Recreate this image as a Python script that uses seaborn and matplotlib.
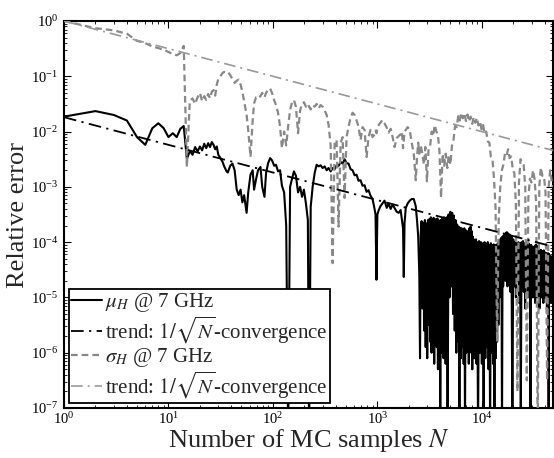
import numpy as np
import pandas as pd
import matplotlib
matplotlib.use("Agg")
import matplotlib.pyplot as plt
import seaborn as sns
from matplotlib.ticker import LogLocator, NullFormatter, FixedLocator

# ---------------- data ----------------
# Number of MC samples, shared part (N = 1 ... 2600)
N_early = (
    list(range(1, 31))
    + [31, 33, 34, 36, 37, 39, 41, 43, 45, 47,
       49, 51, 53, 56, 58, 61, 64, 66, 69, 72,
       76, 79, 83, 86, 90, 94, 98, 103, 107, 112,
       117, 122, 128, 134, 140, 146, 152, 159, 166, 174,
       182, 190, 198, 207, 216, 222, 230, 240, 251, 262,
       274, 286, 299, 313, 327, 341, 357, 373, 390, 407,
       425, 445, 465, 485, 507, 530, 554, 579, 605, 632,
       660, 690, 721, 754, 788, 823, 860, 899, 940, 960,
       980, 1000, 1030, 1070, 1120, 1170, 1230, 1280, 1340, 1400,
       1460, 1530, 1600, 1670, 1720, 1760, 1790, 1820, 1870, 1950,
       2040, 2130, 2230, 2330, 2400, 2460, 2520, 2560, 2600]
)
# sample counts of the dense, noisy tail of mu_H (N > 2600)
N_mu_tail = (list(range(2650, 4451, 50)) + list(range(4500, 8901, 100))
             + list(range(9000, 17801, 200)) + list(range(18000, 47601, 400)))
# sample counts of the tail of sigma_H (N > 2600)
N_sigma_tail = [2690, 2790, 2880, 2980, 3090, 3200, 3310, 3420, 3540, 3670,
                3800, 3930, 4070, 4210, 4360, 4510, 4670, 4830, 5000, 5170,
                5350, 5540, 5740, 5940, 6140, 6360, 6580, 6810, 7050, 7290,
                7550, 7810, 8090, 8370, 8660, 8960, 9280, 9600, 9940, 10280,
                10640, 11010, 11400, 11800, 12210, 12640, 13080, 13540, 14010, 14500,
                15010, 15540, 16080, 16640, 17230, 17830, 18450, 19100, 19770, 20460,
                21170, 21910, 22680, 23480, 24300, 25150, 26030, 26940, 27880, 28860,
                29870, 30910, 31990, 33110, 34270, 35470, 36710, 38000, 39330, 40700,
                42130, 43600, 45130, 46710, 48000]

# log10 of the relative error of mu_H (black, solid)
mu_log10_early = (
    [-1.73, -1.63, -1.70, -1.80, -2.10, -2.24, -1.94, -1.85, -1.94, -2.10,
     -2.03, -2.10, -1.95, -1.90, -2.50, -2.35, -2.42, -2.28, -2.36, -2.27,
     -2.34, -2.22, -2.30, -2.21, -2.28, -2.19, -2.24, -2.32, -2.27, -2.42]
    + [-2.46, -2.55, -2.62, -2.72, -2.74, -2.62, -2.58, -2.70, -3.05, -3.15,
       -3.05, -3.28, -3.15, -3.47, -3.10, -2.78, -2.70, -3.05, -2.86, -2.70,
       -2.64, -3.00, -3.18, -2.75, -2.57, -2.48, -2.52, -2.62, -2.60, -2.72,
       -2.70, -2.98, -3.10, -3.70, -7.50, -3.00, -2.86, -2.72, -2.80, -3.10,
       -3.00, -3.18, -3.05, -3.30, -3.60, -7.50, -3.36, -3.00, -2.75, -2.60,
       -2.63, -2.61, -2.66, -2.63, -2.70, -2.66, -2.72, -2.66, -2.68, -2.61,
       -2.62, -2.55, -2.58, -2.50, -2.57, -2.58, -2.68, -2.70, -2.79, -2.78,
       -2.89, -2.88, -2.98, -2.97, -3.09, -3.06, -3.16, -3.22, -3.40, -3.50,
       -4.68, -3.50, -3.42, -3.35, -3.30, -3.25, -3.38, -3.30, -3.40, -3.32,
       -3.38, -3.45, -3.47, -3.42, -3.60, -3.75, -4.63, -3.65, -3.38, -3.30,
       -3.25, -3.22, -3.22, -3.35, -3.62, -3.90, -4.60, -6.10, -3.85]
)
mu_log10_tail = (
    # N 2650 ... 4450
    [-3.62, -5.2, -3.65, -5.6, -3.60, -5.9, -3.66, -6.1, -3.60, -5.5,
     -3.58, -5.8, -3.55, -6.0, -3.60, -5.7, -3.56, -6.2, -3.58, -5.6,
     -3.62, -5.9, -3.57, -6.3, -3.60, -5.8, -3.62, -7.5, -3.60, -6.0,
     -3.58, -5.7, -3.60, -6.1, -3.55, -5.9, -3.58]
    # N 4500 ... 8900
    + [-6.2, -3.55, -7.5, -3.50, -5.0, -3.45, -4.8, -3.47, -5.3, -3.52,
       -5.6, -3.60, -6.0, -3.68, -5.8, -3.72, -7.5, -3.74, -6.1, -3.75,
       -5.9, -3.76, -6.2, -3.75, -7.5, -3.78, -6.0, -3.80, -5.8, -3.82,
       -6.2, -3.75, -5.9, -3.72, -6.0, -3.80, -6.3, -3.90, -5.9, -3.95,
       -6.1, -3.97, -5.8, -3.95, -6.2]
    # N 9000 ... 17800
    + [-4.00, -7.5, -3.98, -6.0, -4.00, -6.2, -4.02, -7.5, -4.00, -6.1,
       -4.03, -5.9, -4.00, -6.3, -4.05, -7.5, -4.02, -6.0, -4.05, -6.2,
       -4.04, -7.5, -4.05, -6.1, -4.06, -5.8, -4.02, -5.5, -3.98, -5.0,
       -3.95, -4.7, -3.92, -7.5, -3.90, -4.8, -3.88, -4.6, -3.85, -4.7,
       -3.83, -4.5, -3.82, -4.8, -3.84]
    # N 18000 ... 47600
    + [-4.6, -3.86, -4.9, -3.90, -7.5, -3.95, -4.8, -4.00, -5.0, -4.02,
       -4.7, -4.00, -5.1, -4.02, -7.2, -4.00, -4.8, -3.98, -4.9, -4.02,
       -5.2, -4.05, -4.8, -4.00, -5.0, -4.02, -4.7, -4.05, -7.5, -4.05,
       -4.9, -4.08, -5.0, -4.10, -4.8, -4.08, -5.1, -4.05, -4.9, -4.06,
       -5.0, -4.10, -4.8, -4.12, -5.2, -4.15, -4.9, -4.14, -5.0, -4.16,
       -4.8, -4.18, -5.1, -4.15, -4.9, -4.18, -5.0, -4.20, -4.8, -4.20,
       -5.2, -4.22, -4.9, -4.20, -7.5, -4.22, -5.0, -4.25, -4.9, -4.25,
       -5.1, -4.28, -5.0, -4.30, -4.9]
)

# log10 of the relative error of sigma_H (gray, dashed)
sigma_log10_early = (
    [0.00, -0.13, -0.17, -0.23, -0.36, -0.40, -0.46, -0.49, -0.52, -0.56,
     -0.60, -0.62, -0.58, -0.45, -2.64, -1.45, -1.40, -1.50, -1.38, -1.30,
     -1.45, -1.36, -1.43, -1.32, -1.40, -1.28, -1.25, -1.35, -1.15, -1.05]
    + [-1.01, -0.94, -0.92, -0.93, -0.92, -0.98, -1.05, -1.12, -1.08, -1.06,
       -1.15, -1.28, -1.45, -1.70, -1.97, -2.46, -1.80, -1.49, -1.38, -1.40,
       -1.36, -1.30, -1.38, -1.30, -1.24, -1.22, -1.30, -1.44, -1.52, -1.66,
       -1.91, -2.30, -2.00, -2.25, -1.90, -1.61, -1.48, -1.43, -1.55, -2.03,
       -1.62, -1.50, -1.47, -1.55, -1.50, -1.55, -1.60, -1.52, -1.55, -1.50,
       -1.58, -1.52, -1.55, -1.62, -1.70, -1.88, -2.25, -4.38, -2.20, -2.15,
       -3.72, -2.20, -2.10, -3.20, -2.10, -1.91, -1.75, -1.66, -1.70, -1.80,
       -1.91, -2.15, -1.92, -1.97, -2.46, -2.10, -1.97, -2.10, -2.05, -1.98,
       -2.03, -1.95, -1.88, -1.84, -1.79, -1.85, -1.93, -2.02, -1.95, -2.10,
       -2.28, -2.12, -2.08, -2.05, -2.00, -2.30, -2.15, -2.00, -1.97, -1.92,
       -1.97, -2.20, -2.40, -2.88, -2.45, -2.20, -2.40, -2.30, -2.25]
)
sigma_log10_tail = [
    -2.40, -2.60, -2.28, -2.90, -2.32, -2.26, -2.00, -2.08, -1.88, -2.00,
    -2.06, -2.36, -3.20, -2.40, -2.62, -2.40, -2.66, -2.42, -2.60, -2.26,
    -2.16, -1.90, -1.92, -1.72, -1.80, -1.66, -1.76, -1.67, -1.81, -1.69,
    -1.82, -1.73, -1.86, -1.74, -1.84, -1.75, -1.89, -1.82, -1.96, -1.88,
    -2.04, -2.00, -2.18, -2.20, -2.46, -2.50, -2.86, -3.40, -5.80, -3.60,
    -3.00, -2.70, -2.60, -2.40, -2.44, -2.32, -2.48, -2.45, -2.68, -2.75,
    -3.30, -6.70, -2.90, -2.50, -2.56, -2.60, -3.00, -6.50, -3.20, -2.85,
    -2.92, -2.70, -2.86, -3.30, -7.50, -3.00, -2.65, -2.80, -2.80, -3.10,
    -6.50, -3.00, -2.70, -2.90, -3.00]

# 1/sqrt(N) trend lines (end points)
trend_N = [1, 48000]
trend_mu = [1.82e-2, 8.3e-5]
trend_sigma = [1.0, 4.56e-3]

# axis ticks
x_ticks = [1e0, 1e1, 1e2, 1e3, 1e4]
y_ticks = [1e-7, 1e-6, 1e-5, 1e-4, 1e-3, 1e-2, 1e-1, 1e0]

legend_labels = [r"$\mu_H$ @ 7 GHz",
                 r"trend: $1/\sqrt{N}$-convergence",
                 r"$\sigma_H$ @ 7 GHz",
                 r"trend: $1/\sqrt{N}$-convergence"]

# ---------------- styling ----------------
sns.set_style("ticks")
plt.rcParams["font.family"] = ["Liberation Serif", "DejaVu Serif"]
plt.rcParams["mathtext.fontset"] = "stix"

df_mu = pd.DataFrame({"N": N_early + N_mu_tail,
                      "err": 10.0 ** np.array(mu_log10_early + mu_log10_tail)})
df_sigma = pd.DataFrame({"N": N_early + N_sigma_tail,
                         "err": 10.0 ** np.array(sigma_log10_early + sigma_log10_tail)})

fig = plt.figure(figsize=(5.54, 4.58), dpi=100)
ax = fig.add_axes([64 / 554, 50 / 458, 489 / 554, 387 / 458])

sns.lineplot(data=df_mu, x="N", y="err", ax=ax, color="black", lw=1.5,
             estimator=None, sort=False, label=legend_labels[0], zorder=2)
sns.lineplot(data=df_sigma, x="N", y="err", ax=ax, color="#888888", lw=1.6,
             linestyle=(0, (3.0, 1.8)), estimator=None, sort=False,
             label=legend_labels[2], zorder=3)
sns.lineplot(x=trend_N, y=trend_mu, ax=ax, color="black", lw=1.3,
             linestyle=(0, (7, 3, 1.2, 3)), estimator=None,
             label=legend_labels[1], zorder=4)
sns.lineplot(x=trend_N, y=trend_sigma, ax=ax, color="#999999", lw=1.2,
             linestyle=(0, (7, 3, 1.2, 3)), estimator=None,
             label=legend_labels[3], zorder=4)

ax.set_xscale("log")
ax.set_yscale("log")
ax.set_xlim(1, 48000)
ax.set_ylim(1e-7, 1)

ax.xaxis.set_major_locator(FixedLocator(x_ticks))
ax.yaxis.set_major_locator(FixedLocator(y_ticks))
ax.xaxis.set_minor_locator(LogLocator(base=10, subs=np.arange(2, 10), numticks=20))
ax.yaxis.set_minor_locator(LogLocator(base=10, subs=np.arange(2, 10), numticks=20))
ax.xaxis.set_minor_formatter(NullFormatter())
ax.yaxis.set_minor_formatter(NullFormatter())

ax.tick_params(which="both", direction="in", top=True, right=True,
               labelsize=10.5, colors="black")
ax.tick_params(which="major", length=5, width=0.8)
ax.tick_params(axis="x", which="major", pad=2.5)
ax.tick_params(axis="y", which="major", pad=4)
ax.tick_params(which="minor", length=2.5, width=0.6)
for sp in ax.spines.values():
    sp.set_linewidth(1.5)
    sp.set_color("black")

ax.set_xlabel(r"Number of MC samples $N$", fontsize=19, labelpad=-0.5)
ax.set_ylabel("Relative error", fontsize=19, labelpad=1)

handles, labels = ax.get_legend_handles_labels()
order = [labels.index(legend_labels[0]), 2, labels.index(legend_labels[2]), 3]
leg = ax.legend([handles[i] for i in order], [labels[i] for i in order],
                loc="lower left", fontsize=15, frameon=True, fancybox=False,
                framealpha=1, edgecolor="black", borderaxespad=0.22,
                handlelength=1.5, handletextpad=0.15, labelspacing=0.02,
                borderpad=0.12)
leg.get_frame().set_linewidth(1.3)

fig.savefig("out.png", dpi=100)
